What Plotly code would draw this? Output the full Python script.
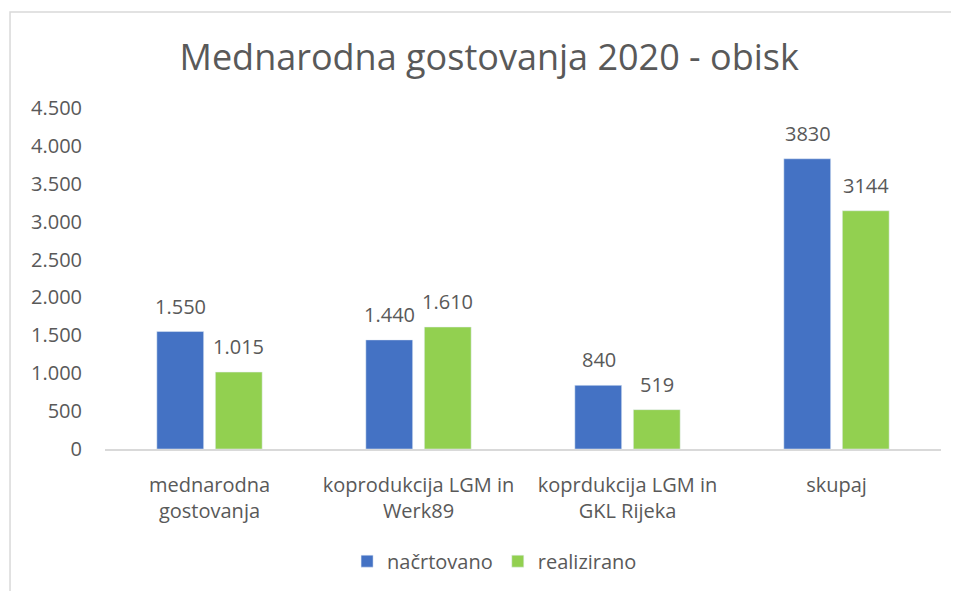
import plotly.graph_objects as go

CATEGORIES = [
    "mednarodna<br>gostovanja",
    "koprodukcija LGM in<br>Werk89",
    "koprdukcija LGM in<br>GKL Rijeka",
    "skupaj",
]
PLANNED = [1550, 1440, 840, 3830]
REALISED = [1015, 1610, 519, 3144]
PLANNED_LABELS = ["1.550", "1.440", "840", "3830"]
REALISED_LABELS = ["1.015", "1.610", "519", "3144"]

TEXT_COLOR = "#595959"
FONT = "Open Sans, Noto Sans, sans-serif"
BAR_OFFSET = 29  # horizontal distance from category centre to each bar centre

figure = go.Figure()
figure.add_trace(
    go.Bar(x=CATEGORIES, y=PLANNED, name="načrtovano", marker_color="#4472C4")
)
figure.add_trace(
    go.Bar(x=CATEGORIES, y=REALISED, name="realizirano", marker_color="#92D050")
)

# value labels above the bars
for values, labels, shift in ((PLANNED, PLANNED_LABELS, -BAR_OFFSET), (REALISED, REALISED_LABELS, BAR_OFFSET)):
    for category, value, label in zip(CATEGORIES, values, labels):
        figure.add_annotation(
            x=category,
            y=value,
            text=label,
            showarrow=False,
            xshift=shift,
            yanchor="bottom",
            yshift=10,
            font={"size": 20, "color": TEXT_COLOR, "family": FONT},
        )

figure.update_layout(
    width=951,
    height=583,
    margin={"l": 97, "r": 18, "t": 100, "b": 141},
    paper_bgcolor="white",
    plot_bgcolor="white",
    font={"family": FONT, "color": TEXT_COLOR, "size": 20},
    separators=",.",
    title={
        "text": "Mednarodna gostovanja 2020 - obisk",
        "x": 0.506,
        "xanchor": "center",
        "y": 0.916,
        "yanchor": "middle",
        "font": {"size": 36, "color": TEXT_COLOR, "family": FONT},
    },
    barmode="group",
    bargap=0.44,
    bargroupgap=0.2,
    showlegend=True,
    legend={
        "orientation": "h",
        "x": 0.466,
        "xanchor": "center",
        "y": -0.325,
        "yanchor": "middle",
        "font": {"size": 20, "color": TEXT_COLOR},
        "itemwidth": 30,
    },
    xaxis={
        "showgrid": False,
        "showline": True,
        "linecolor": "#d9d9d9",
        "linewidth": 2,
        "ticks": "",
        "ticklabelstandoff": 17,
        "tickfont": {"size": 20, "color": TEXT_COLOR},
    },
    yaxis={
        "range": [0, 4500],
        "dtick": 500,
        "tickformat": ",d",
        "showgrid": False,
        "zeroline": False,
        "showline": False,
        "ticks": "",
        "ticklabelstandoff": 22,
        "tickfont": {"size": 20, "color": TEXT_COLOR},
    },
    shapes=[
        {
            "type": "rect",
            "xref": "paper",
            "yref": "paper",
            "x0": -0.1136,
            "x1": 1.03,
            "y0": -0.5,
            "y1": 1.2815,
            "line": {"color": "#d9d9d9", "width": 1.5},
            "fillcolor": "rgba(0,0,0,0)",
            "layer": "below",
        }
    ],
)

figure.write_html("out.html")
